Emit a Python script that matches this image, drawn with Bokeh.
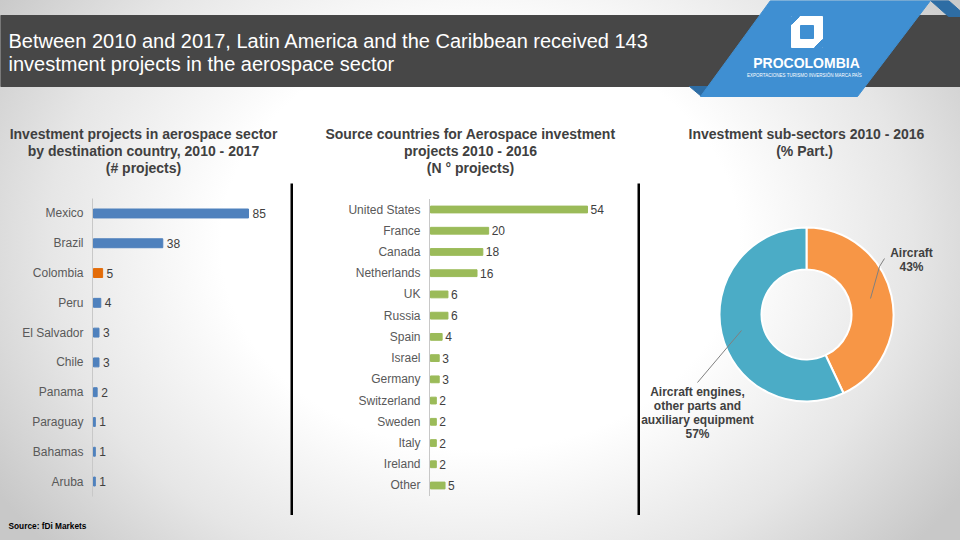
from bokeh.plotting import figure
from bokeh.models import Range1d, Label, ColumnDataSource, FixedTicker
from bokeh.layouts import column, row
from bokeh.embed import file_html
from bokeh.resources import INLINE
from bokeh.core.properties import value
import math

# ---------------- data ----------------
header_lines = ["Between 2010 and 2017, Latin America and the Caribbean received 143",
                "investment projects in the aerospace sector"]

dest_title = ["Investment projects in aerospace sector",
              "by destination country, 2010 - 2017",
              "(# projects)"]
dest_countries = ["Mexico", "Brazil", "Colombia", "Peru", "El Salvador", "Chile",
                  "Panama", "Paraguay", "Bahamas", "Aruba"]
dest_projects = [85, 38, 5, 4, 3, 3, 2, 1, 1, 1]
highlight_country = "Colombia"

source_title = ["Source countries for Aerospace investment",
                "projects 2010 - 2016",
                "(N \u00b0 projects)"]
source_countries = ["United States", "France", "Canada", "Netherlands", "UK", "Russia",
                    "Spain", "Israel", "Germany", "Switzerland", "Sweden", "Italy",
                    "Ireland", "Other"]
source_projects = [54, 20, 18, 16, 6, 6, 4, 3, 3, 2, 2, 2, 2, 5]

sector_title = ["Investment sub-sectors 2010 - 2016", "(%  Part.)"]
sectors = ["Aircraft", "Aircraft engines, other parts and auxiliary equipment"]
sector_share = [43, 57]
sector_label_lines = [["Aircraft", "43%"],
                      ["Aircraft engines,", "other parts and", "auxiliary equipment", "57%"]]

source_note = "Source: fDi Markets"

# ---------------- style ----------------
FONT = "Liberation Sans"
BLUE = "#4F81BD"
ORANGE = "#E36C09"
GREEN = "#9BBB59"
PIE_COLORS = ["#F79646", "#4BACC6"]
TXT = "#404040"
AX_TXT = "#595959"
W = 960
ROW_TOP, ROW_BOT = 183, 515


def base_fig(**kw):
    p = figure(output_backend="svg", toolbar_location=None, **kw)
    p.background_fill_color = None
    p.border_fill_color = None
    p.outline_line_color = None
    p.min_border = 0
    p.min_border_left = 0
    p.min_border_right = 0
    p.min_border_top = 0
    p.min_border_bottom = 0
    p.grid.visible = False
    return p


def title_label(fig, x, y, text, size="14px", align="center", color=TXT, bold=True):
    fig.add_layout(Label(x=x, y=y, text=text, text_align=align, text_baseline="middle",
                         text_font=FONT, text_font_style="bold" if bold else "normal",
                         text_font_size=size, text_color=color))


# ---------------- header (page y 0..183) ----------------
hdr = base_fig(width=W, height=ROW_TOP, x_range=Range1d(0, W), y_range=Range1d(ROW_TOP, 0),
               x_axis_type=None, y_axis_type=None)
hdr.quad(left=0, right=W, top=15, bottom=86, color="#474747")
hdr.patch([930, 948, 966, 948], [0, 0, 16, 16], color="#2E6DA4")
hdr.patch([689, 712, 701], [86, 86, 96], color="#2E6DA4")
hdr.patch([770, 930, 857, 700], [0, 0, 96, 96], color="#3F8FD2")
hdr.quad(left=791, right=822, top=16, bottom=47, color="white")
hdr.quad(left=800, right=813, top=25, bottom=38, color="#3F8FD2")
hdr.patch([791, 799, 791], [16, 16, 24], color="#3F8FD2")
hdr.patch([822, 814, 822], [47, 47, 39], color="#3F8FD2")
title_label(hdr, 806, 62, "PROCOLOMBIA", size="14px", color="white")
title_label(hdr, 806, 75, "EXPORTACIONES  TURISMO  INVERSI\u00d3N  MARCA PA\u00cdS", size="4.5px",
            color="white", bold=False)
for i, line in enumerate(header_lines):
    title_label(hdr, 8, 40 + 23 * i, line, size="20px", align="left", color="white", bold=False)
for i, line in enumerate(dest_title):
    title_label(hdr, 143, 133 + 17 * i, line)
for i, line in enumerate(source_title):
    title_label(hdr, 470, 133 + 17 * i, line)
for i, line in enumerate(sector_title):
    title_label(hdr, 806, 133 + 17 * i, line)


# ---------------- bar chart helper ----------------
def bar_chart(width, zero_px, px_per_unit, cats, vals, colors, band, first_center, last_center,
              bar_h, label_off):
    n = len(cats)
    top_pad = (first_center - ROW_TOP) / band
    bot_pad = (ROW_BOT - last_center) / band
    frame_left = zero_px - 3
    x_start = -3 / px_per_unit
    x_end = (width - zero_px) / px_per_unit
    p = base_fig(width=width, height=ROW_BOT - ROW_TOP, x_range=Range1d(x_start, x_end),
                 y_range=Range1d(-bot_pad, n - 1 + top_pad), x_axis_type=None)
    p.min_border_left = frame_left
    pos = [n - 1 - i for i in range(n)]  # first category on top
    src = ColumnDataSource(dict(pos=pos, cat=cats, value=vals,
                                label=[str(v) for v in vals], color=colors))
    # category baseline (value 0), drawn as a thin filled strip
    p.quad(left=[-1.5 / px_per_unit], right=[-0.5 / px_per_unit], bottom=[-0.5], top=[n - 0.5],
           fill_color="#C8C8C8", line_color=None)
    p.hbar(y="pos", right="value", left=0, height=bar_h, color="color", source=src)
    p.text(x="value", y="pos", text="label", source=src, x_offset=label_off, text_baseline="middle",
           text_font=value(FONT), text_font_size="12px", text_color=TXT)
    ax = p.yaxis[0]
    ax.ticker = FixedTicker(ticks=sorted(pos), minor_ticks=[])
    ax.major_label_overrides = {q: c for q, c in zip(pos, cats)}
    ax.axis_line_color = None
    ax.major_tick_line_color = None
    ax.minor_tick_line_color = None
    ax.major_tick_out = 0
    ax.major_tick_in = 0
    ax.major_label_standoff = 7
    ax.major_label_text_font = FONT
    ax.major_label_text_font_size = "12px"
    ax.major_label_text_color = AX_TXT
    return p


left = bar_chart(290, 93, 155 / 85, dest_countries, dest_projects,
                 [ORANGE if c == highlight_country else BLUE for c in dest_countries],
                 29.8, 213, 481, 0.3, 4)
mid = bar_chart(344, 430 - 293, 157 / 54, source_countries, source_projects,
                [GREEN] * len(source_countries), 21.23, 209, 485, 0.32, 3)


# ---------------- dividers ----------------
def divider():
    d = base_fig(width=3, height=ROW_BOT - ROW_TOP, x_range=Range1d(0, 1), y_range=Range1d(0, 1),
                 x_axis_type=None, y_axis_type=None)
    d.background_fill_color = "black"
    return d


# ---------------- right: donut (page x 640..960) ----------------
R = 87.0  # px per unit
CX, CY = 806 - 640, 314 - ROW_TOP
PW, PH = W - 640, ROW_BOT - ROW_TOP
pie = base_fig(width=PW, height=PH, x_range=Range1d(-CX / R, (PW - CX) / R),
               y_range=Range1d(-(PH - CY) / R, CY / R), x_axis_type=None, y_axis_type=None)
total = float(sum(sector_share))
starts, ends = [], []
a = math.pi / 2
for s in sector_share:
    starts.append(a)
    a -= s / total * 2 * math.pi
    ends.append(a)
psrc = ColumnDataSource(dict(sector=sectors, share=sector_share, start=starts, end=ends, color=PIE_COLORS))
pie.annular_wedge(x=0, y=0, inner_radius=45 / R, outer_radius=1.0, start_angle="start", end_angle="end",
                  direction="clock", fill_color="color", line_color="white", line_width=2, source=psrc)


def px(xp):
    return (xp - 806) / R


def py(yp):
    return (314 - yp) / R


pie.line([px(884), px(879), px(870)], [py(258), py(266), py(298)], line_color="#808080", line_width=1)
pie.line([px(741), px(697)], [py(330), py(382)], line_color="#808080", line_width=1)
for i, line in enumerate(sector_label_lines[0]):
    title_label(pie, px(911), py(252 + 14 * i), line, size="12px")
for i, line in enumerate(sector_label_lines[1]):
    title_label(pie, px(697), py(391 + 14.3 * i), line, size="12px")

# ---------------- footer (page y 515..540) ----------------
ftr = base_fig(width=W, height=540 - ROW_BOT, x_range=Range1d(0, W), y_range=Range1d(540, ROW_BOT),
               x_axis_type=None, y_axis_type=None)
title_label(ftr, 8, 525, source_note, size="8.3px", align="left", color="black")

body = row(left, divider(), mid, divider(), pie)
page = column(hdr, body, ftr, styles={
    "background": "radial-gradient(ellipse 60% 85% at 50% 45%, #ffffff 45%, #e6e6e6 75%, #c8c8c8 100%)"})

open("out.html", "w").write(file_html(page, INLINE))
